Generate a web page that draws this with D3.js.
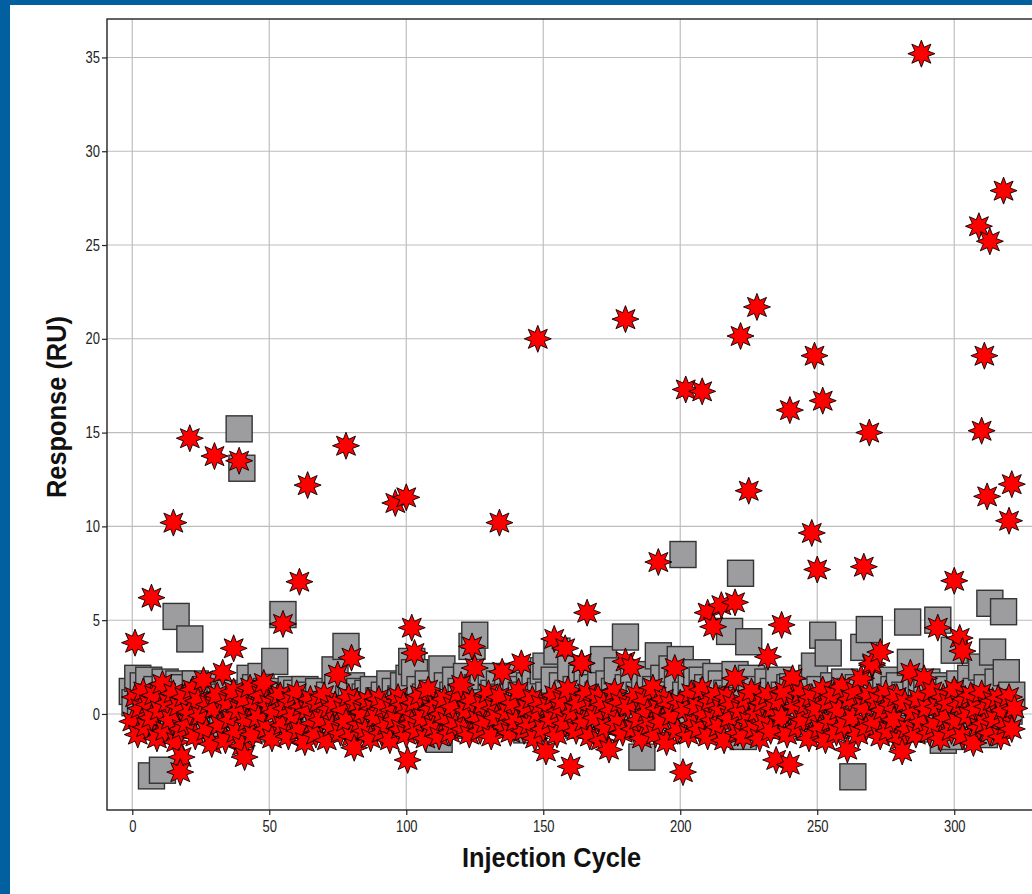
<!DOCTYPE html>
<html>
<head>
<meta charset="utf-8">
<script src="https://cdn.jsdelivr.net/npm/d3@7"></script>
<style>
  html, body { margin: 0; padding: 0; overflow: hidden; background: #ffffff; }
  svg { display: block; }
</style>
</head>
<body>
<svg id="chart" width="1032" height="894"></svg>
<script>
// Blank-channel responses per injection cycle: [cycle, response (RU)]
const blankPoints = [
  [0,1.2],[1,0.6],[2,1.9],[3,0.4],[4,1.5],[5,-0.3],[6,1.8],[7,0.9],[7,-3.3],[9,1.3],[10,0.2],[11,-3.0],[12,1.7],[13,0.5],
  [14,1.1],[15,-0.4],[16,5.2],[17,1.6],[18,0.3],[19,1.4],[20,-0.6],[21,4.0],[22,0.8],[23,1.6],[24,-0.2],[25,1.0],[26,0.4],[27,1.3],[28,-0.9],[29,0.7],[30,1.5],[31,-0.5],[32,0.9],[33,0.2],
  [35,1.1],[36,-0.7],[37,0.5],[39,15.2],[40,13.1],[41,1.0],[42,-0.3],[43,1.9],[44,0.6],[45,1.4],[46,-0.8],[47,2.0],[48,0.3],[49,1.2],[50,-0.4],
  [52,2.8],[53,0.7],[55,5.3],[56,1.0],[57,-0.6],[58,1.3],[59,0.2],[60,1.1],[61,-0.5],[62,0.8],[63,1.3],[64,-0.2],[65,1.0],[66,0.4],[67,-0.7],[68,1.2],[69,0.5],[70,-0.3],
  [72,1.0],[73,0.1],[74,2.35],[75,1.4],[76,-0.6],[78,3.6],[79,0.8],[80,1.5],[81,-0.2],[82,0.6],[83,1.2],[84,-0.8],[85,0.9],[86,1.1],[87,0.2],[88,1.3],[89,-0.4],[90,0.7],
  [92,1.0],[93,-0.1],[94,1.6],[95,0.4],[96,1.2],[97,-0.7],[98,0.8],[99,1.5],[100,0.1],[101,1.9],[102,2.8],[103,2.2],[104,0.6],[105,1.3],[106,-0.3],[107,0.9],[108,1.6],[109,0.2],[110,1.1],
  [111,-0.5],[112,-1.35],[113,2.4],[114,0.7],[115,1.5],[116,-0.2],[117,1.0],[118,1.8],[119,0.3],[120,1.2],[121,-0.6],[122,2.0],[123,0.8],[124,3.6],[125,4.2],[126,1.4],[127,0.1],[128,1.7],[129,0.6],[130,-0.4],
  [131,2.0],[132,1.1],[133,0.3],[134,1.6],[135,-0.2],[136,0.9],[137,1.8],[138,0.5],[139,2.0],[140,1.3],[141,-0.5],[142,1.0],[143,0.4],[144,-0.85],[145,1.5],[146,0.8],[147,1.9],[148,0.2],[149,1.2],[150,2.3],
  [151,2.55],[152,1.0],[153,0.4],[154,1.8],[155,3.35],[156,0.7],[157,1.5],[158,-0.3],[159,1.1],[160,2.4],[161,0.6],[162,1.3],[163,-0.6],[164,1.9],[165,0.9],[166,2.2],[167,0.3],[168,1.4],[169,-0.2],[170,1.0],
  [171,2.0],[172,2.9],[173,0.8],[174,1.6],[175,-0.4],[176,1.2],[177,2.3],[178,0.5],[180,4.1],[181,1.4],[182,0.2],[183,1.8],[184,-0.5],[185,1.0],[186,-2.3],[187,1.5],[188,0.6],[189,2.1],[190,-0.2],
  [191,1.3],[192,3.1],[193,0.7],[194,1.9],[195,-0.4],[196,1.1],[197,2.4],[198,0.3],[199,1.6],[200,2.9],[201,8.5],[202,1.0],[203,-0.6],[204,1.7],[205,0.5],[206,2.2],[207,-0.2],[208,1.8],[209,0.9],[210,1.4],
  [211,-0.5],[212,1.2],[213,2.0],[214,0.4],[215,1.6],[216,-0.3],[217,1.1],[218,4.4],[219,0.8],[220,2.1],[221,-0.7],[222,7.5],[223,-1.2],[224,1.5],[225,3.85],[226,1.9],[227,0.6],[228,1.3],[229,-0.4],[230,1.0],
  [231,0.3],[232,1.7],[233,-0.6],[234,1.2],[235,0.5],[236,1.8],[237,-0.2],[238,1.0],[239,0.4],[240,1.4],[241,1.45],[242,-0.5],[243,0.9],[244,1.6],[245,0.2],[246,1.1],[247,-0.7],[248,1.9],[249,2.55],[250,0.6],
  [251,1.3],[252,4.2],[253,-0.3],[254,3.25],[255,0.8],[256,1.5],[257,-0.6],[258,1.0],[259,0.4],[260,1.7],[261,-0.2],[262,1.2],[263,-3.35],[264,0.7],[265,1.4],[266,-0.5],[267,3.55],[268,1.0],[269,4.5],[270,0.3],
  [271,1.6],[272,-0.4],[273,1.1],[274,0.5],[275,1.8],[276,-0.7],[277,0.9],[278,1.3],[279,0.2],[280,1.5],[281,-0.3],[282,1.0],[283,4.9],[284,2.75],[285,0.6],[286,1.4],[287,-0.8],[288,1.2],[289,0.4],[290,1.7],
  [291,-0.5],[292,1.0],[293,0.3],[294,5.0],[295,1.5],[296,-1.4],[297,0.8],[298,1.3],[299,-1.2],[300,3.4],[301,0.5],[302,1.6],[303,-0.6],[304,1.1],[305,0.2],[306,1.9],[307,-0.9],[308,1.2],[309,0.6],[310,2.5],
  [311,-1.1],[312,1.4],[313,5.9],[314,3.3],[315,0.8],[316,1.7],[317,-0.4],[318,5.45],[319,2.2],[320,0.15],[321,1.0]
];

// Sample-channel responses, one per injection cycle starting at cycle 0
const sampleBand = [
  -0.4, 0.9, -1.1, 0.3, 1.2, -0.7, 0.5, -0.2, 1.0, -1.3,
  0.2, 1.6, -0.9, 0.6, -0.3, 1.1, -1.5, 0.4, -0.8, 0.9,
  -0.5, 0.1, 1.3, -1.2, 0.7, -0.1, 1.8, -0.9, 0.5, -1.6,
  0.3, 1.0, -0.6, 2.2, -1.4, 0.6, -0.3, 1.2, -1.0, 0.2,
  -1.7, 0.8, -0.4, 1.4, -1.1, 0.4, -0.2, 1.0, 1.65, -0.8,
  0.5, -1.3, 0.1, 0.9, 1.0, -0.6, 0.3, -1.2, 0.7, -0.1,
  1.1, -0.9, 0.4, -1.5, 0.2, 0.8, -0.5, -1.1, 0.6, -0.3,
  1.0, -1.4, 0.3, -0.7, 0.5, 2.1, -1.0, 0.2, -0.4, 0.9,
  -1.2, -1.8, 0.6, -0.5, 0.1, -0.9, 0.7, -1.3, 0.3, -0.2,
  0.8, -1.0, 0.4, -0.6, -1.4, 0.2, -0.3, 0.9, -0.8, 0.5,
  -1.1, 0.1, -0.5, 0.6, -0.9, 1.0, -0.2, -1.3, 1.3, 0.3,
  -0.7, 0.5, -1.2, 0.0, 0.8, -0.4, -1.0, 0.4, -0.6, 1.1,
  1.55, -0.8, 0.2, -1.1, 0.7, 2.45, -0.3, -0.9, 0.5, -0.5,
  1.1, -1.2, 0.3, -0.2, 0.9, 2.25, -0.7, 0.1, -1.0, 0.6,
  -0.4, 1.2, 2.7, -0.9, 0.3, -0.6, 0.8, -1.3, 0.0, 0.5,
  -0.8, -2.0, 0.4, -0.3, 1.0, -1.1, 0.2, 0.7, -0.5, 1.3,
  -2.8, 0.1, -0.9, 0.6, 2.7, -0.4, 1.1, -1.2, 0.3, -0.2,
  0.9, -1.4, 0.5, -0.7, -1.9, 0.2, 1.2, -0.5, 0.6, -1.0,
  2.8, 0.4, 2.5, -0.8, 1.0, -0.3, -1.3, 0.7, 0.1, -0.6,
  1.4, -1.1, 0.3, -0.4, 0.8, -1.5, 0.5, -0.1, 2.45, -0.9,
  0.6, -3.1, 0.2, -1.1, 1.1, -0.5, 0.4, -0.8, 1.3, 0.0,
  -1.2, 0.7, -0.3, 1.0, -0.7, 0.3, -1.4, 0.9, -0.2, 0.5,
  1.9, -1.0, 0.2, -1.2, 0.8, -0.4, 1.2, -0.8, 0.1, -1.3,
  0.6, -0.5, 1.0, -0.9, 0.3, -2.45, 0.7, -0.2, 1.2, -1.1,
  -2.7, 1.9, 0.4, -0.7, 1.1, -0.3, 0.5, -1.3, 0.9, -0.1,
  0.3, -0.8, 1.3, -1.4, 0.6, -0.4, 1.0, -1.0, 0.2, 1.45,
  -0.6, -1.9, 0.8, -0.2, 1.2, -1.1, 1.9, 0.4, -0.7, 1.0,
  2.6, -0.5, 0.7, -1.2, 0.2, 1.1, -0.9, 0.5, -0.3, 0.9,
  -1.4, -2.0, 0.6, -0.8, 2.2, 0.1, -1.1, 0.8, -0.4, 1.9,
  0.3, -1.0, 1.2, -0.6, 0.4, -1.3, 0.9, -0.2, 0.6, -0.9,
  1.3, -0.4, 0.5, -1.2, 0.8, -0.1, 1.0, -1.55, 0.3, -0.7,
  1.1, -0.5, 0.4, -1.0, 0.7, -0.3, 0.85, -1.2, 0.2, -0.6,
  0.9, -0.8, 0.3
];

// Additional sample-channel readings outside the main band: [cycle, response (RU)]
const sampleExtra = [
  [1,3.8],[7,6.2],[15,10.2],[21,14.7],[30,13.75],[39,13.5],[37,3.5],[18,-2.3],[17.5,-3.1],[41,-2.3],
  [55,4.8],[61,7.05],[64,12.2],[78,14.3],[80,3.0],[96,11.25],[100,11.55],[102,4.6],[103,3.25],[100.5,-2.45],
  [124,3.6],[134,10.2],[148,20.0],[154,4.0],[158,3.5],[166,5.4],[164,2.7],[180,21.05],[192,8.1],
  [202,17.3],[208,17.2],[210,5.4],[212,4.65],[215,5.8],[220,5.95],[222,20.15],[225,11.9],[228,21.7],[232,3.05],[237,4.75],
  [240,16.2],[248,9.65],[249,19.1],[250,7.7],[252,16.7],[267,7.85],[269,15.0],[270,2.7],[273,3.3],
  [288,35.2],[294,4.6],[300,7.1],[302,4.05],[303,3.35],[309,26.0],[310,15.1],[311,19.1],[312,11.6],[313,25.2],[318,27.9],[320,10.3],[321,12.25]
];

const xTicks = [0, 50, 100, 150, 200, 250, 300];
const yTicks = [0, 5, 10, 15, 20, 25, 30, 35];

const svg = d3.select("#chart");

// Blue slide frame along the left and top edges
svg.append("rect").attr("x", 0).attr("y", 0).attr("width", 1032).attr("height", 894).attr("fill", "#0060a0");
svg.append("rect").attr("x", 10).attr("y", 5).attr("width", 1022).attr("height", 889).attr("fill", "#ffffff");

const plot = { left: 107, top: 19, right: 1040, bottom: 810 };

const x = d3.scaleLinear().domain([-9.23, 331.3]).range([plot.left, plot.right]);
const y = d3.scaleLinear().domain([-5.12, 37.05]).range([plot.bottom, plot.top]);

// Grid
const grid = svg.append("g");
grid.selectAll("line.vx").data(xTicks).join("line")
  .attr("x1", d => x(d)).attr("x2", d => x(d))
  .attr("y1", plot.top).attr("y2", plot.bottom)
  .attr("stroke", "#c4c4c4").attr("stroke-width", 1.3);
grid.selectAll("line.hy").data(yTicks).join("line")
  .attr("x1", plot.left).attr("x2", plot.right)
  .attr("y1", d => y(d)).attr("y2", d => y(d))
  .attr("stroke", "#bdbdbd").attr("stroke-width", 1.1);

// Markers
const squareSide = 26;
svg.append("g").selectAll("rect").data(blankPoints).join("rect")
  .attr("x", d => x(d[0]) - squareSide / 2)
  .attr("y", d => y(d[1]) - squareSide / 2)
  .attr("width", squareSide).attr("height", squareSide)
  .attr("fill", "#9d9da0").attr("stroke", "#333333").attr("stroke-width", 1.4);

function starPath(rOuter, rInner, points) {
  const pts = [];
  for (let i = 0; i < points * 2; i++) {
    const r = i % 2 === 0 ? rOuter : rInner;
    const a = -Math.PI / 2 + i * Math.PI / points;
    pts.push([r * Math.cos(a), r * Math.sin(a)]);
  }
  return d3.line()(pts) + "Z";
}
const star = starPath(13.5, 7, 8);

const samplePoints = sampleBand.map((v, i) => [i, v]).concat(sampleExtra);
svg.append("g").selectAll("path").data(samplePoints).join("path")
  .attr("d", star)
  .attr("transform", d => `translate(${x(d[0])},${y(d[1])})`)
  .attr("fill", "#ff0000").attr("stroke", "#000000").attr("stroke-width", 0.9)
  .attr("stroke-linejoin", "miter");

// Panel border
svg.append("rect")
  .attr("x", plot.left).attr("y", plot.top)
  .attr("width", plot.right - plot.left).attr("height", plot.bottom - plot.top)
  .attr("fill", "none").attr("stroke", "#222222").attr("stroke-width", 1.4);

// Axes
const labelFont = "'Liberation Sans', Arial, sans-serif";
const xAxis = svg.append("g").attr("transform", `translate(0,${plot.bottom})`)
  .call(d3.axisBottom(x).tickValues(xTicks).tickSize(5).tickSizeOuter(0).tickPadding(6));
const yAxis = svg.append("g").attr("transform", `translate(${plot.left},0)`)
  .call(d3.axisLeft(y).tickValues(yTicks).tickSize(5).tickSizeOuter(0).tickPadding(2));
[xAxis, yAxis].forEach(g => {
  g.select(".domain").remove();
  g.selectAll(".tick line").attr("stroke", "#222222").attr("stroke-width", 1.2);
  g.selectAll(".tick text")
    .attr("fill", "#222222")
    .style("font-family", labelFont)
    .style("font-size", "16px")
    .attr("lengthAdjust", "spacingAndGlyphs")
    .attr("textLength", d => String(d).length * 7.2);
});
xAxis.selectAll(".tick text").attr("dy", "0.71em");

// Axis titles
svg.append("text")
  .attr("x", 551.5).attr("y", 867)
  .attr("text-anchor", "middle")
  .style("font-family", labelFont).style("font-weight", "bold").style("font-size", "27px")
  .attr("lengthAdjust", "spacingAndGlyphs").attr("textLength", 179)
  .attr("fill", "#111111")
  .text("Injection Cycle");

svg.append("text")
  .attr("transform", "translate(66,407) rotate(-90)")
  .attr("text-anchor", "middle")
  .style("font-family", labelFont).style("font-weight", "bold").style("font-size", "27px")
  .attr("lengthAdjust", "spacingAndGlyphs").attr("textLength", 182)
  .attr("fill", "#111111")
  .text("Response (RU)");
</script>
</body>
</html>
